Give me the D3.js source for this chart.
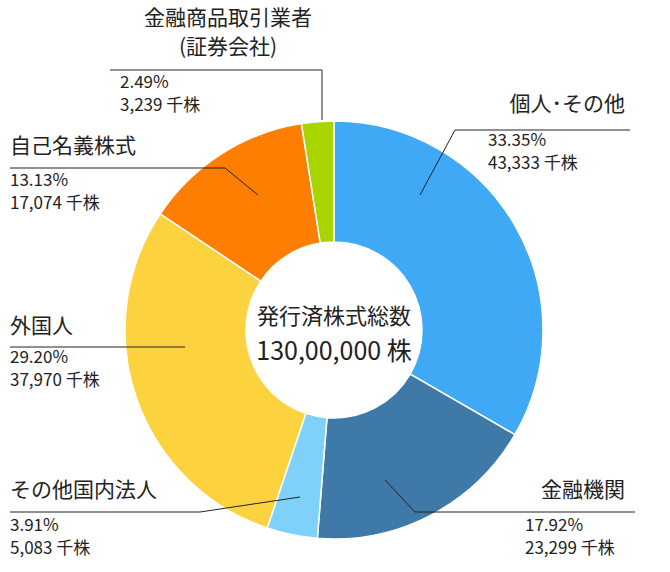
<!DOCTYPE html><html><head><meta charset="utf-8"><script src="https://cdn.jsdelivr.net/npm/d3@7"></script>
<style>body{margin:0;background:#fff}text{font-family:"Noto Sans CJK JP","Noto Sans",sans-serif;fill:#222}</style></head><body>
<svg id="c" width="670" height="572"></svg>
<script>
const categories=["個人･その他","金融機関","その他国内法人","外国人","自己名義株式","金融商品取引業者"];
const percents=[33.35,17.92,3.91,29.20,13.13,2.49];
const shares=["43,333","23,299","5,083","37,970","17,074","3,239"];
const colors=["#3fa9f5","#3f79a8","#7fd1f9","#fdd23f","#fd7e00","#a8d400"];
const svg=d3.select("#c");
const cx=334,cy=330;
const pie=d3.pie().sort(null).value(d=>d)(percents);
const arc=d3.arc().innerRadius(88).outerRadius(209);
const g=svg.append("g").attr("transform",`translate(${cx},${cy})`);
g.selectAll("path").data(pie).join("path").attr("d",arc).attr("fill",(d,i)=>colors[i]).attr("stroke","#fff").attr("stroke-width",1.5);
g.append("text").attr("text-anchor","middle").attr("y",-6).style("font-size","22px").text("発行済株式総数");
g.append("text").attr("text-anchor","middle").attr("y",30).style("font-size","25px").text("130,00,000 株");
const L=[
 {pts:[[420,195],[455,130],[630,130]],title:[[625,111,"end",categories[0]]],px:488,py:146},
 {pts:[[385,480],[415,512],[635,512]],title:[[625,497,"end",categories[1]]],px:525,py:531},
 {pts:[[300,497],[200,512],[10,512]],title:[[10,497,"start",categories[2]]],px:10,py:531},
 {pts:[[185,347],[10,347]],title:[[10,333,"start",categories[3]]],px:10,py:363},
 {pts:[[258,195],[225,168],[10,168]],title:[[10,153,"start",categories[4]]],px:10,py:186},
 {pts:[[322,120],[322,70],[110,70]],title:[[228,25,"middle",categories[5]],[228,54,"middle","(証券会社)"]],px:120,py:88}
];
L.forEach((l,i)=>{
 svg.append("path").attr("d",d3.line()(l.pts)).attr("fill","none").attr("stroke","#222").attr("stroke-width",1);
 l.title.forEach(t=>svg.append("text").attr("x",t[0]).attr("y",t[1]).attr("text-anchor",t[2]).style("font-size","21px").text(t[3]));
 svg.append("text").attr("x",l.px).attr("y",l.py).style("font-size","17px").text(percents[i].toFixed(2)+"%");
 svg.append("text").attr("x",l.px).attr("y",l.py+23).style("font-size","17px").text(shares[i]+" 千株");
});
</script></body></html>
